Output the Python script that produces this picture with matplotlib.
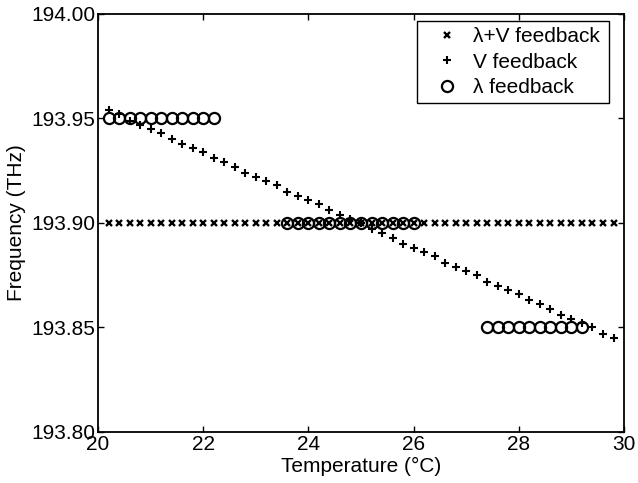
import matplotlib
matplotlib.use('Agg')
import matplotlib.pyplot as plt
from matplotlib.ticker import MultipleLocator, FormatStrFormatter

plt.rcParams['font.family'] = ['Liberation Sans', 'DejaVu Sans']

# lambda+V feedback: locked at 193.90 THz over the whole range
temp_lv = [20.2, 20.4, 20.6, 20.8, 21.0, 21.2, 21.4, 21.6, 21.8, 22.0,
           22.2, 22.4, 22.6, 22.8, 23.0, 23.2, 23.4, 23.6, 23.8, 24.0,
           24.2, 24.4, 24.6, 24.8, 25.0, 25.2, 25.4, 25.6, 25.8, 26.0,
           26.2, 26.4, 26.6, 26.8, 27.0, 27.2, 27.4, 27.6, 27.8, 28.0,
           28.2, 28.4, 28.6, 28.8, 29.0, 29.2, 29.4, 29.6, 29.8]
freq_lv = [193.900] * len(temp_lv)

# V feedback: drifts with temperature
temp_v = list(temp_lv)
freq_v = [193.954, 193.952, 193.949, 193.947, 193.945, 193.943, 193.940, 193.938, 193.936, 193.934,
          193.931, 193.929, 193.927, 193.924, 193.922, 193.920, 193.918, 193.915, 193.913, 193.911,
          193.909, 193.906, 193.904, 193.902, 193.900, 193.897, 193.895, 193.893, 193.890, 193.888,
          193.886, 193.884, 193.881, 193.879, 193.877, 193.875, 193.872, 193.870, 193.868, 193.866,
          193.863, 193.861, 193.859, 193.856, 193.854, 193.852, 193.850, 193.847, 193.845]

# lambda feedback: three locked channels
temp_l = [20.2, 20.4, 20.6, 20.8, 21.0, 21.2, 21.4, 21.6, 21.8, 22.0, 22.2,
          23.6, 23.8, 24.0, 24.2, 24.4, 24.6, 24.8, 25.0, 25.2, 25.4, 25.6, 25.8, 26.0,
          27.4, 27.6, 27.8, 28.0, 28.2, 28.4, 28.6, 28.8, 29.0, 29.2]
freq_l = [193.95] * 11 + [193.90] * 13 + [193.85] * 10

fig = plt.figure(figsize=(6.38, 4.83), dpi=100)
ax = fig.add_axes([0.1536, 0.1056, 0.8245, 0.8655])

ax.plot(temp_lv, freq_lv, linestyle='none', marker='x', color='black',
        markersize=4, markeredgewidth=1.7, label='λ+V feedback')
ax.plot(temp_v, freq_v, linestyle='none', marker='+', color='black',
        markersize=5.5, markeredgewidth=1.5, label='V feedback')
ax.plot(temp_l, freq_l, linestyle='none', marker='o', markerfacecolor='none',
        markeredgecolor='black', markersize=8, markeredgewidth=1.6,
        label='λ feedback')

ax.set_xlim(20, 30)
ax.set_ylim(193.80, 194.00)
ax.xaxis.set_major_locator(MultipleLocator(2))
ax.yaxis.set_major_locator(MultipleLocator(0.05))
ax.yaxis.set_major_formatter(FormatStrFormatter('%.2f'))
ax.tick_params(direction='in', length=4, width=1, labelsize=15,
               top=True, right=True, pad=2)
for s in ax.spines.values():
    s.set_linewidth(1.3)

ax.set_xlabel('Temperature (°C)', fontsize=15, labelpad=2)
ax.set_ylabel('Frequency (THz)', fontsize=15, labelpad=4)

leg = ax.legend(loc='upper left', bbox_to_anchor=(0.6065, 0.5, 0.365, 0.483),
                mode='expand', borderaxespad=0, numpoints=1, fontsize=15,
                fancybox=False, edgecolor='black', framealpha=1,
                labelspacing=0.3, handletextpad=0.1, handlelength=2.3,
                borderpad=0.3)
leg.get_frame().set_linewidth(1.0)

plt.savefig('out.png', dpi=100)
